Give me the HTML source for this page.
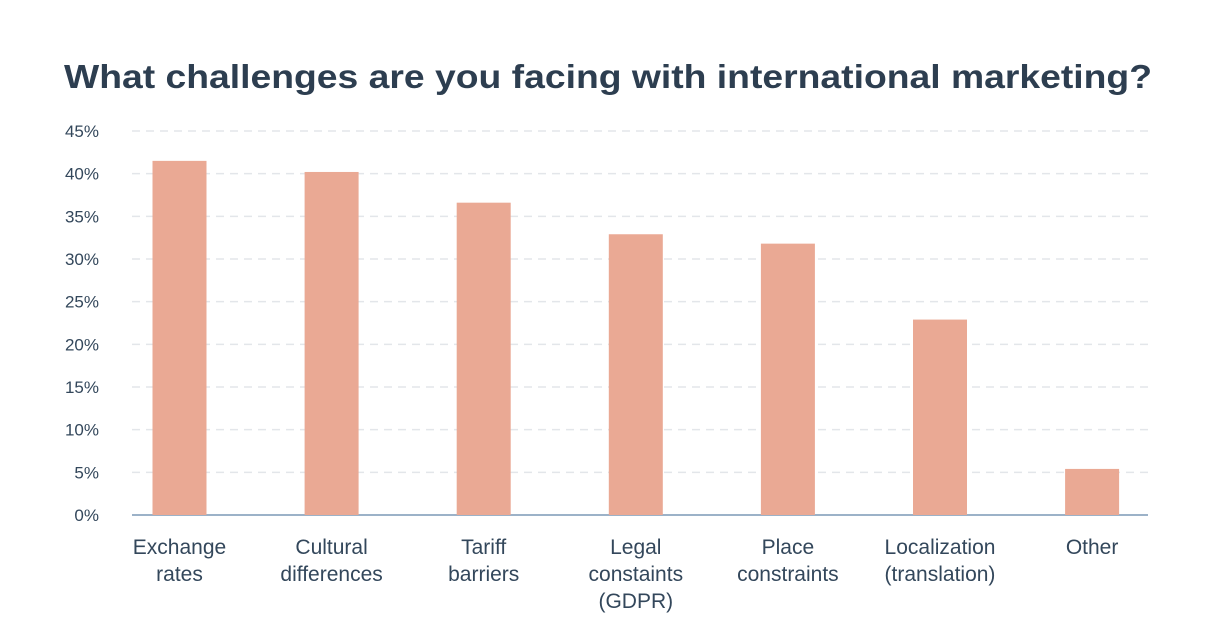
<!DOCTYPE html>
<html><head><meta charset="utf-8"><style>
html,body{margin:0;padding:0;background:#fff;}
svg{display:block;font-family:"Liberation Sans",sans-serif;}
</style></head><body>
<svg id="chart" width="1218" height="640" viewBox="0 0 1218 640">
<text x="64" y="88" font-size="33" font-weight="900" fill="#2d3e50" textLength="1088" lengthAdjust="spacingAndGlyphs">What challenges are you facing with international marketing?</text>
<g id="grid"></g><g id="bars"></g><g id="xlabels"></g>
</svg>
<script>
const categories = [["Exchange","rates"],["Cultural","differences"],["Tariff","barriers"],["Legal","constaints","(GDPR)"],["Place","constraints"],["Localization","(translation)"],["Other"]];
const values = [41.5, 40.2, 36.6, 32.9, 31.8, 22.9, 5.4];
const yTicks = [0,5,10,15,20,25,30,35,40,45];
const yTickLabels = ["0%","5%","10%","15%","20%","25%","30%","35%","40%","45%"];
const NS="http://www.w3.org/2000/svg";
const y0=515, yTop=131, yMax=45, xL=132, xR=1148;
const y=v=>y0-(v/yMax)*(y0-yTop);
const xc=i=>179.5+i*152.1;
function mk(t,a,p){const e=document.createElementNS(NS,t);for(const k in a)e.setAttribute(k,a[k]);p.appendChild(e);return e;}
const grid=document.getElementById('grid');
yTicks.forEach((t,i)=>{
  if(t>0){const l=mk('line',{x1:xL,x2:xR,y1:y(t),y2:y(t),stroke:'#e3e6ea','stroke-width':1.5,'stroke-dasharray':'8,6'},grid);
  
  }
  const tx=mk('text',{x:99,y:y(t)+6,'text-anchor':'end','font-size':17,fill:'#33475b'},grid);
  tx.textContent=yTickLabels[i];
  
  
});
const ax=mk('line',{x1:xL,x2:xR,y1:y0,y2:y0,stroke:'#7c98b6','stroke-width':1.5},grid);


const bars=document.getElementById('bars'),xl=document.getElementById('xlabels');
values.forEach((v,i)=>{
  const r=mk('rect',{x:xc(i)-27,y:y(v),width:54,height:y0-y(v),fill:'#eaa994'},bars);
  
  
  const t=mk('text',{'text-anchor':'middle','font-size':21,fill:'#33475b'},xl);
  
  
  categories[i].forEach((s,j)=>{const ts=mk('tspan',{x:xc(i),y:554+j*27},t);ts.textContent=s;});
});
</script>
</body></html>
